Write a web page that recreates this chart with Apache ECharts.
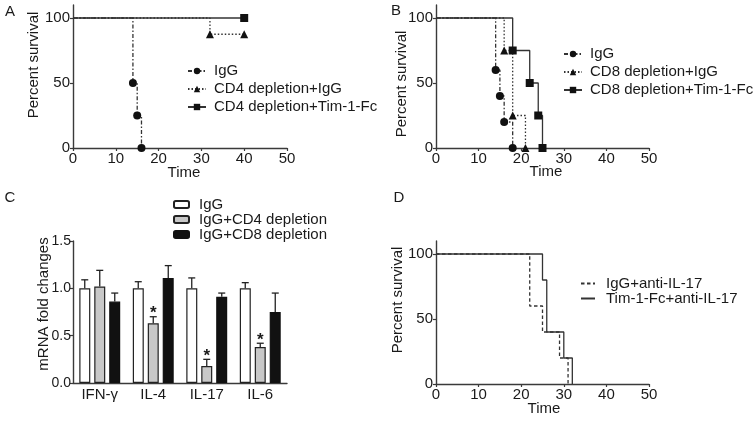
<!DOCTYPE html>
<html><head><meta charset="utf-8">
<script src="https://cdn.jsdelivr.net/npm/echarts@6/dist/echarts.min.js"></script>
<style>html,body{margin:0;padding:0;background:#fff}#c{width:756px;height:421px}</style>
</head><body><div id="c"></div>
<script>
// ---- tick labels ----
const timeTicks = [0, 10, 20, 30, 40, 50];
const survivalTicks = [0, 50, 100];
const foldTicks = [0, 0.5, 1.0, 1.5];

// ---- Panel A (Kaplan-Meier) ----
const aIgGTime = [0, 14, 15, 16];        const aIgGSurv = [100, 50, 25, 0];
const aCD4IgGTime = [0, 32, 40];         const aCD4IgGSurv = [100, 87.5, 87.5];
const aCD4TimTime = [0, 40];             const aCD4TimSurv = [100, 100];

// ---- Panel B ----
const bIgGTime = [0, 14, 15, 16, 18];    const bIgGSurv = [100, 60, 40, 20, 0];
const bCD8IgGTime = [0, 16, 18, 21];     const bCD8IgGSurv = [100, 75, 25, 0];
const bCD8TimTime = [0, 18, 22, 24, 25]; const bCD8TimSurv = [100, 75, 50, 25, 0];

// ---- Panel C (bars) ----
const cytokines = ['IFN-γ', 'IL-4', 'IL-17', 'IL-6'];
const foldIgG = [1.00, 1.00, 1.00, 1.00]; const errIgG = [0.09, 0.07, 0.11, 0.06];
const foldCD4 = [1.02, 0.63, 0.18, 0.38]; const errCD4 = [0.17, 0.07, 0.07, 0.04];
const foldCD8 = [0.86, 1.11, 0.91, 0.75]; const errCD8 = [0.09, 0.13, 0.04, 0.20];
const sigCD4 = [false, true, true, true];

// ---- Panel D ----
const dIgGTime = [0, 22, 25, 29, 31];    const dIgGSurv = [100, 60, 40, 20, 0];
const dTimTime = [0, 25, 26, 30, 32];    const dTimSurv = [100, 80, 40, 20, 0];

const FONT = 'Liberation Sans, Arial, sans-serif';
const INK = '#1a1a1a';
const AX = '#3a3a3a';

function timeAxis(g) {
  return {
    type: 'value', gridIndex: g, min: 0, max: 50, interval: 10,
    axisLine: { show: true, lineStyle: { color: AX, width: 1.4 } },
    axisTick: { show: true, length: 3, lineStyle: { color: AX, width: 1.2 } },
    axisLabel: { color: INK, fontSize: 15, fontFamily: FONT, margin: 3 },
    splitLine: { show: false }
  };
}
function survAxis(g) {
  return {
    type: 'value', gridIndex: g, min: 0, max: 110, interval: 50,
    axisLine: { show: true, lineStyle: { color: AX, width: 1.4 } },
    axisTick: { show: true, length: 3, customValues: survivalTicks, lineStyle: { color: AX, width: 1.2 } },
    axisLabel: { color: INK, fontSize: 15, fontFamily: FONT, margin: 3, customValues: survivalTicks },
    splitLine: { show: false }
  };
}
function km(name, times, vals, g, symbol, dash) {
  return {
    type: 'line', name: name, xAxisIndex: g, yAxisIndex: g, step: 'end',
    symbol: symbol, symbolSize: symbol === 'none' ? 0 : 8,
    data: times.map((t, i) => ({ value: [t, vals[i]], symbol: i === 0 ? 'none' : symbol })),
    lineStyle: { color: '#333', width: 1.3, type: dash },
    itemStyle: { color: '#111' },
    animation: false, z: 3
  };
}
const DASHDOT = [4, 2, 1.5, 2];
const DOT = [1.5, 2];
const DASH = [3.5, 2.5];

function errSeries(means, errs, sig, offset) {
  return {
    type: 'custom', xAxisIndex: 2, yAxisIndex: 2, z: 5, animation: false,
    data: means.map((m, i) => [i, m, errs[i], sig ? (sig[i] ? 1 : 0) : 0]),
    renderItem: function (params, api) {
      const ci = api.value(0), m = api.value(1), e = api.value(2), s = api.value(3);
      const base = api.coord([ci, m]);
      const top = api.coord([ci, m + e]);
      const x = base[0] + offset;
      const kids = [
        { type: 'line', shape: { x1: x, y1: base[1], x2: x, y2: top[1] }, style: { stroke: '#222', lineWidth: 1.3 } },
        { type: 'line', shape: { x1: x - 3.5, y1: top[1], x2: x + 3.5, y2: top[1] }, style: { stroke: '#222', lineWidth: 1.3 } }
      ];
      if (s) {
        kids.push({ type: 'text', x: x, y: top[1] - 3, style: { text: '*', fill: INK, font: 'bold 17px ' + FONT, textAlign: 'center', textVerticalAlign: 'middle' } });
      }
      return { type: 'group', children: kids };
    }
  };
}

const legendBase = {
  orient: 'vertical', itemGap: 0, selectedMode: false, padding: 0,
  itemWidth: 18, itemHeight: 8,
  textStyle: { color: INK, fontSize: 15, fontFamily: FONT, lineHeight: 18, padding: [0, 0, 0, 3] }
};

function gtext(text, x, y, rot) {
  return { type: 'text', x: x, y: y, rotation: rot ? Math.PI / 2 : 0,
    style: { text: text, fill: INK, font: '15px ' + FONT, textAlign: 'center', textVerticalAlign: 'middle' } };
}

const chart = echarts.init(document.getElementById('c'), null, { renderer: 'canvas' });
chart.setOption({
  animation: false,
  backgroundColor: '#ffffff',
  grid: [
    { left: 73, top: 5, width: 214, height: 143 },
    { left: 436, top: 5, width: 213, height: 143 },
    { left: 73, top: 241, width: 214, height: 142 },
    { left: 436, top: 241, width: 213, height: 143 }
  ],
  xAxis: [
    timeAxis(0), timeAxis(1),
    { type: 'category', gridIndex: 2, data: cytokines, boundaryGap: true,
      axisLine: { show: true, lineStyle: { color: AX, width: 1.4 } },
      axisTick: { show: false },
      axisLabel: { color: INK, fontSize: 15, fontFamily: FONT, margin: 4 } },
    timeAxis(3)
  ],
  yAxis: [
    survAxis(0), survAxis(1),
    { type: 'value', gridIndex: 2, min: 0, max: 1.5, interval: 0.5,
      axisLine: { show: true, lineStyle: { color: AX, width: 1.4 } },
      axisTick: { show: true, length: 3, lineStyle: { color: AX, width: 1.2 } },
      axisLabel: { color: INK, fontSize: 14, fontFamily: FONT, margin: 2, formatter: v => v.toFixed(1) },
      splitLine: { show: false } },
    survAxis(3)
  ],
  legend: [
    Object.assign({}, legendBase, { left: 187, top: 62, data: ['A:IgG', 'A:CD4 depletion+IgG', 'A:CD4 depletion+Tim-1-Fc'], formatter: n => n.slice(2) }),
    Object.assign({}, legendBase, { left: 563, top: 45, data: ['B:IgG', 'B:CD8 depletion+IgG', 'B:CD8 depletion+Tim-1-Fc'], formatter: n => n.slice(2) }),
    Object.assign({}, legendBase, { left: 173, top: 197, itemWidth: 15, itemHeight: 7,
      textStyle: { color: INK, fontSize: 15, fontFamily: FONT, lineHeight: 15, padding: [0, 0, 0, 5] },
      data: ['C:IgG', 'C:IgG+CD4 depletion', 'C:IgG+CD8 depletion'], formatter: n => n.slice(2) }),
    Object.assign({}, legendBase, { left: 580, top: 276, itemWidth: 14,
      itemStyle: { opacity: 0 },
      textStyle: { color: INK, fontSize: 15, fontFamily: FONT, lineHeight: 15, padding: [0, 0, 0, 6] },
      data: ['D:IgG+anti-IL-17', 'D:Tim-1-Fc+anti-IL-17'], formatter: n => n.slice(2) })
  ],
  series: [
    km('A:IgG', aIgGTime, aIgGSurv, 0, 'circle', DASHDOT),
    km('A:CD4 depletion+IgG', aCD4IgGTime, aCD4IgGSurv, 0, 'triangle', DOT),
    km('A:CD4 depletion+Tim-1-Fc', aCD4TimTime, aCD4TimSurv, 0, 'rect', 'solid'),
    km('B:IgG', bIgGTime, bIgGSurv, 1, 'circle', DASHDOT),
    km('B:CD8 depletion+IgG', bCD8IgGTime, bCD8IgGSurv, 1, 'triangle', DOT),
    km('B:CD8 depletion+Tim-1-Fc', bCD8TimTime, bCD8TimSurv, 1, 'rect', 'solid'),
    { type: 'bar', name: 'C:IgG', xAxisIndex: 2, yAxisIndex: 2, data: foldIgG, barWidth: 11, barGap: '36%',
      itemStyle: { color: '#ffffff', borderColor: '#222', borderWidth: 1.2 }, animation: false },
    { type: 'bar', name: 'C:IgG+CD4 depletion', xAxisIndex: 2, yAxisIndex: 2, data: foldCD4, barWidth: 11, barGap: '36%',
      itemStyle: { color: '#c8c8c8', borderColor: '#222', borderWidth: 1.2 }, animation: false },
    { type: 'bar', name: 'C:IgG+CD8 depletion', xAxisIndex: 2, yAxisIndex: 2, data: foldCD8, barWidth: 11, barGap: '36%',
      itemStyle: { color: '#111111', borderColor: '#111', borderWidth: 1.2 }, animation: false },
    errSeries(foldIgG, errIgG, null, -15),
    errSeries(foldCD4, errCD4, sigCD4, 0),
    errSeries(foldCD8, errCD8, null, 15),
    km('D:IgG+anti-IL-17', dIgGTime, dIgGSurv, 3, 'none', DASH),
    km('D:Tim-1-Fc+anti-IL-17', dTimTime, dTimSurv, 3, 'none', 'solid')
  ],
  graphic: [
    gtext('A', 10, 12), gtext('B', 396, 11), gtext('C', 10, 198), gtext('D', 399, 198),
    gtext('Percent survival', 34, 65, true),
    gtext('Percent survival', 402, 84, true),
    gtext('mRNA fold changes', 44, 304, true),
    gtext('Percent survival', 398, 300, true),
    gtext('Time', 184, 173), gtext('Time', 546, 172), gtext('Time', 544, 409)
  ]
});
</script>
</body></html>
